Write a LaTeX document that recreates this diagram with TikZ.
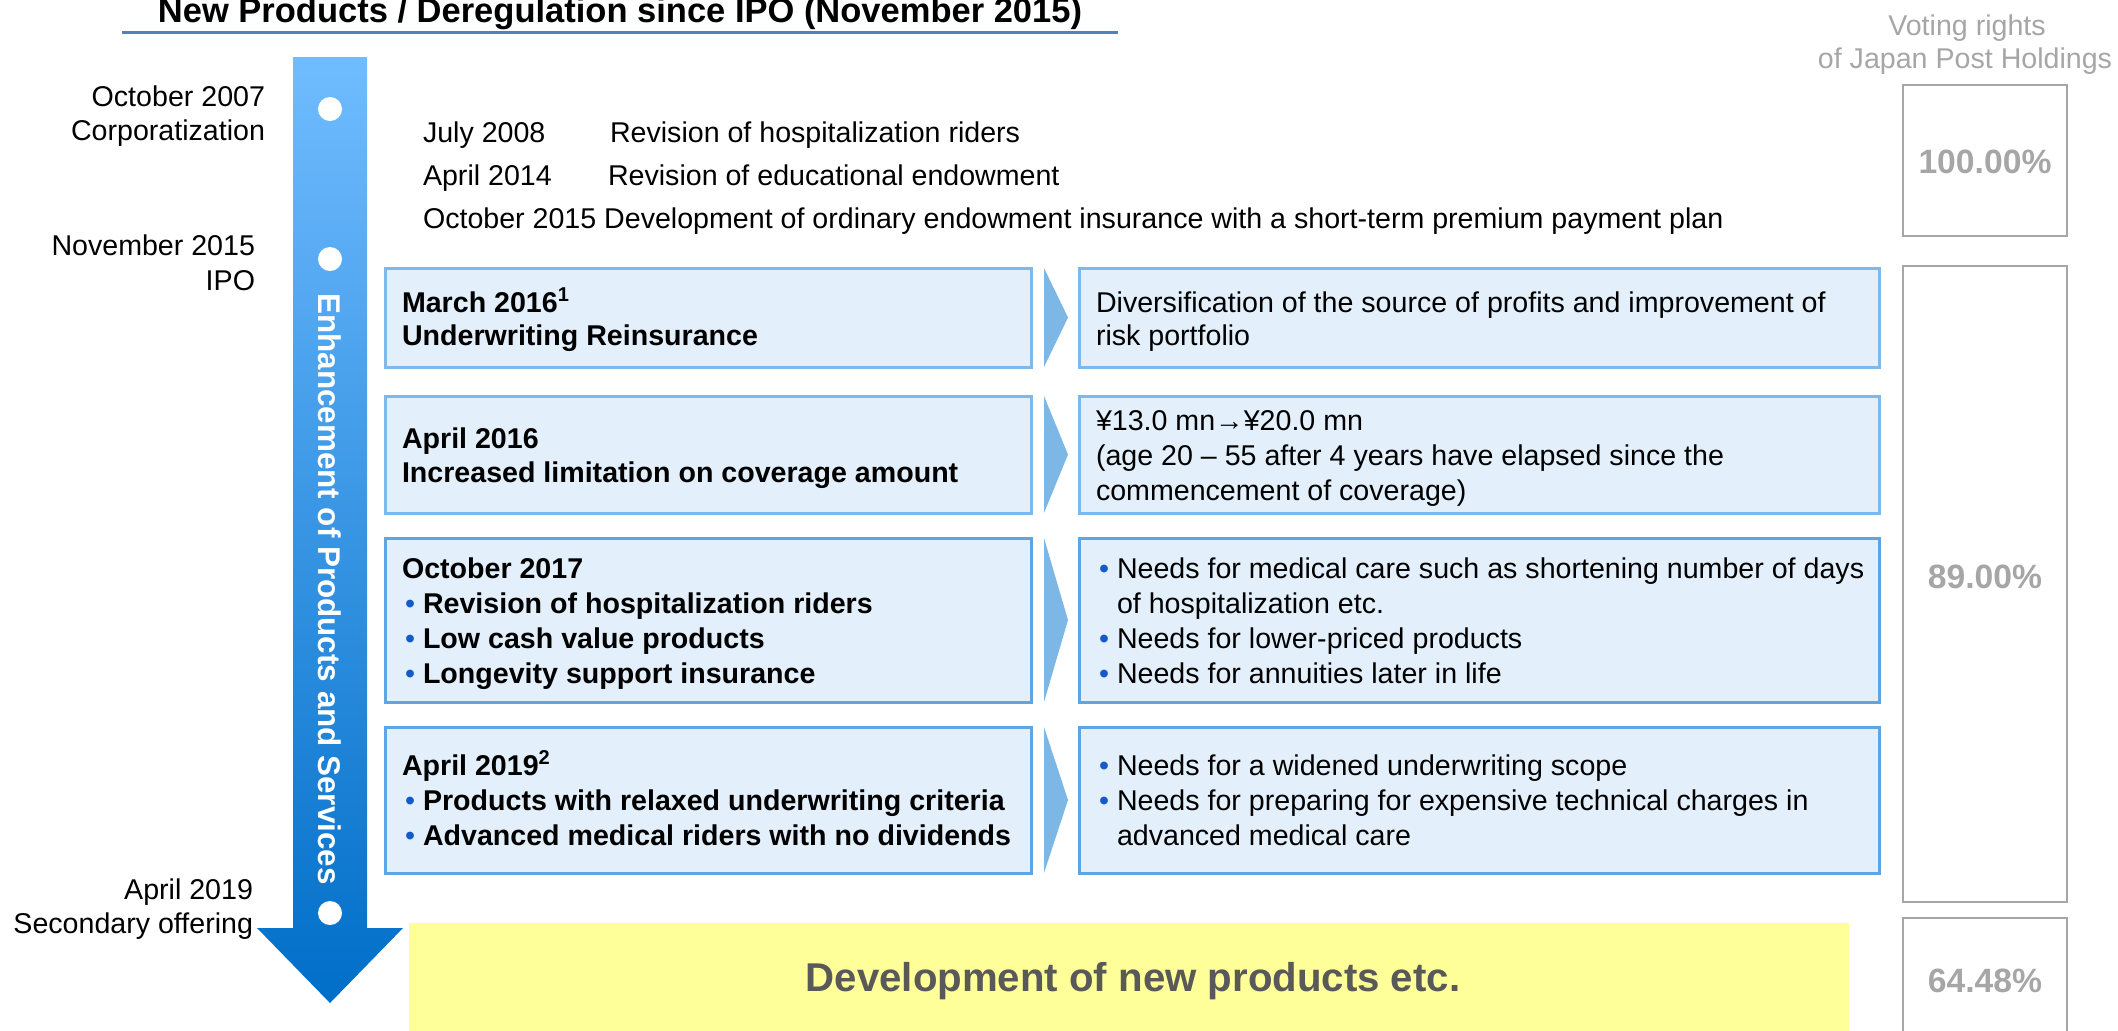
\documentclass[tikz,border=0pt]{standalone}
\usepackage{fontspec}
\setmainfont{Liberation Sans}
\usetikzlibrary{calc}
\definecolor{titleline}{RGB}{79,129,189}
\definecolor{boxfill}{RGB}{227,239,250}
\definecolor{boxlineA}{RGB}{125,185,235}
\definecolor{boxlineB}{RGB}{95,165,225}
\definecolor{chevc}{RGB}{125,183,230}
\definecolor{grayc}{RGB}{166,166,166}
\definecolor{yellowc}{RGB}{255,255,153}
\definecolor{yellowtext}{RGB}{89,89,89}
\definecolor{arrowtop}{RGB}{112,188,255}
\definecolor{arrowbot}{RGB}{0,110,200}
\definecolor{bulletc}{RGB}{20,90,200}
\newcommand\bodyfont{\fontsize{14.3}{17.5}\selectfont}
\newcommand\pctfont{\bfseries\fontsize{16.85}{20}\selectfont}
\newcommand\bul{\textcolor{bulletc}{\textbullet}}
\begin{document}
\begin{tikzpicture}[x=0.5pt,y=-0.5pt,
  every node/.style={inner sep=0pt,outer sep=0pt,font=\bodyfont},
  lbl/.style={anchor=base east},
  txt/.style={anchor=base west},
  btxt/.style={anchor=base west,font=\bodyfont\bfseries},
  pbox/.style={draw=boxlineA,fill=boxfill,line width=1.5pt,anchor=north west},
  pboxB/.style={draw=boxlineB,fill=boxfill,line width=1.5pt,anchor=north west},
  gbox/.style={draw=grayc,line width=1.3pt,anchor=north west,minimum width=82pt},
  pct/.style={text=grayc,font=\pctfont},
  chev/.style={fill=chevc},
  dotc/.style={circle,fill=white,minimum size=12pt}]
\useasboundingbox (0,0) rectangle (2118,1030);
\clip (0,0) rectangle (2118,1030);
% title
\node[anchor=base,font=\bfseries\fontsize{17.25}{20}\selectfont] (title) at (620,22) {New Products / Deregulation since IPO (November 2015)};
\coordinate (ulA) at (122,32);
\coordinate (ulB) at (1118,32);
\draw[titleline,line width=1.5pt] (ulA) -- (ulB);
% big arrow
\shade[top color=arrowtop,bottom color=arrowbot] (293,57) -- (367,57) -- (367,928) -- (403,928) -- (330,1003) -- (257,928) -- (293,928) -- cycle;
\node[dotc] (d1) at (330,109) {};
\node[dotc] (d2) at (330,259) {};
\node[dotc] (d3) at (330,913) {};
\node[rotate=-90,text=white,font=\bfseries\fontsize{15.7}{18}\selectfont] (vt) at (330,589) {Enhancement of Products and Services};
% left labels
\node[lbl] (a1) at (265,106) {October 2007};
\node[lbl] (a2) at (265,140) {Corporatization};
\node[lbl] (b1) at (255,255) {November 2015};
\node[lbl] (b2) at (255,290) {IPO};
\node[lbl] (c1) at (253,899) {April 2019};
\node[lbl] (c2) at (253,933) {Secondary offering};
% top lines
\node[txt] (t1) at (423,142) {July 2008};
\node[txt] (t1b) at (610,142) {Revision of hospitalization riders};
\node[txt] (t2) at (423,185) {April 2014};
\node[txt] (t2b) at (608,185) {Revision of educational endowment};
\node[txt] (t3) at (423,228) {October 2015 Development of ordinary endowment insurance with a short-term premium payment plan};
% left boxes
\node[pbox,minimum width=323pt,minimum height=49.5pt] (L1) at (385,268) {};
\node[pbox,minimum width=323pt,minimum height=58.5pt] (L2) at (385,396) {};
\node[pboxB,minimum width=323pt,minimum height=82pt] (L3) at (385,538) {};
\node[pboxB,minimum width=323pt,minimum height=73pt] (L4) at (385,727) {};
% right boxes
\node[pbox,minimum width=400pt,minimum height=49.5pt] (R1) at (1079,268) {};
\node[pbox,minimum width=400pt,minimum height=58.5pt] (R2) at (1079,396) {};
\node[pboxB,minimum width=400pt,minimum height=82pt] (R3) at (1079,538) {};
\node[pboxB,minimum width=400pt,minimum height=73pt] (R4) at (1079,727) {};
% chevrons
\foreach \b in {L1,L2,L3,L4}{
  \fill[chev] ($(\b.north east)+(13,0)$) -- ($(\b.east)+(37,0)$) -- ($(\b.south east)+(13,0)$) -- cycle;
}
% left box texts
\node[btxt] (l1a) at (402,312) {March 2016\textsuperscript{1}};
\node[btxt] (l1b) at (402,345) {Underwriting Reinsurance};
\node[btxt] (l2a) at (402,448) {April 2016};
\node[btxt] (l2b) at (402,482) {Increased limitation on coverage amount};
\node[btxt] (l3a) at (402,578) {October 2017};
\node[txt] (l3b0) at (405,613) {\bul};
\node[btxt] (l3b) at (423,613) {Revision of hospitalization riders};
\node[txt] (l3c0) at (405,648) {\bul};
\node[btxt] (l3c) at (423,648) {Low cash value products};
\node[txt] (l3d0) at (405,683) {\bul};
\node[btxt] (l3d) at (423,683) {Longevity support insurance};
\node[btxt] (l4a) at (402,775) {April 2019\textsuperscript{2}};
\node[txt] (l4b0) at (405,810) {\bul};
\node[btxt] (l4b) at (423,810) {Products with relaxed underwriting criteria};
\node[txt] (l4c0) at (405,845) {\bul};
\node[btxt] (l4c) at (423,845) {Advanced medical riders with no dividends};
% right box texts
\node[txt] (r1a) at (1096,312) {Diversification of the source of profits and improvement of};
\node[txt] (r1b) at (1096,345) {risk portfolio};
\node[txt] (r2a) at (1096,430) {¥13.0 mn→¥20.0 mn};
\node[txt] (r2b) at (1096,465) {(age 20 – 55 after 4 years have elapsed since the};
\node[txt] (r2c) at (1096,500) {commencement of coverage)};
\node[txt] (r3a0) at (1099,578) {\bul};
\node[txt] (r3a) at (1117,578) {Needs for medical care such as shortening number of days};
\node[txt] (r3b) at (1117,613) {of hospitalization etc.};
\node[txt] (r3c0) at (1099,648) {\bul};
\node[txt] (r3c) at (1117,648) {Needs for lower-priced products};
\node[txt] (r3d0) at (1099,683) {\bul};
\node[txt] (r3d) at (1117,683) {Needs for annuities later in life};
\node[txt] (r4a0) at (1099,775) {\bul};
\node[txt] (r4a) at (1117,775) {Needs for a widened underwriting scope};
\node[txt] (r4b0) at (1099,810) {\bul};
\node[txt] (r4b) at (1117,810) {Needs for preparing for expensive technical charges in};
\node[txt] (r4c) at (1117,845) {advanced medical care};
% yellow box
\node[fill=yellowc,anchor=north west,minimum width=720pt,minimum height=70pt] (Y) at (409,923) {};
\node[anchor=base,text=yellowtext,font=\bfseries\fontsize{20.1}{24}\selectfont] (yt) at (1133,991) {Development of new products etc.};
% voting rights
\node[anchor=base,text=grayc] (v1) at (1967,35) {Voting rights};
\node[anchor=base,text=grayc] (v2) at (1965,68) {of Japan Post Holdings};
\node[gbox,minimum height=75.5pt] (G1) at (1903,85) {};
\node[gbox,minimum height=318pt] (G2) at (1903,266) {};
\node[gbox,minimum height=70pt] (G3) at (1903,918) {};
\node[pct] (p1) at (1985,162) {100.00\%};
\node[pct] (p2) at (1985,577) {89.00\%};
\node[pct] (p3) at (1985,981) {64.48\%};
\end{tikzpicture}
\end{document}
